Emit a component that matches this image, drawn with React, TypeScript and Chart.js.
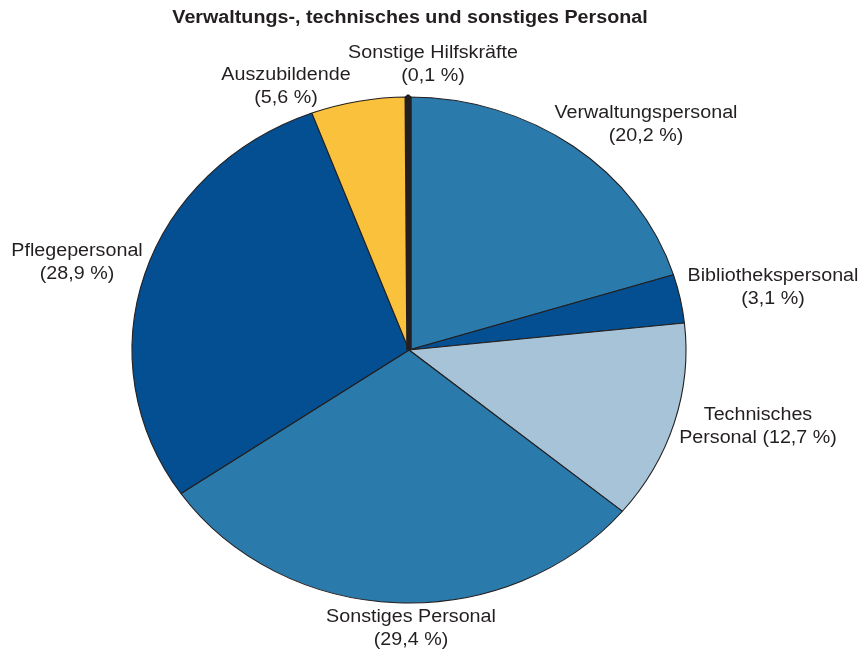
import React, { useEffect, useRef } from "react";
import { Chart, registerables } from "chart.js";

Chart.register(...registerables);

const TITLE = "Verwaltungs-, technisches und sonstiges Personal";
const CATEGORIES = [
  "Verwaltungspersonal",
  "Bibliothekspersonal",
  "Technisches Personal",
  "Sonstiges Personal",
  "Pflegepersonal",
  "Auszubildende",
  "Sonstige Hilfskräfte",
];
const VALUES = [20.2, 3.1, 12.7, 29.4, 28.9, 5.6, 0.1];
const VALUE_TEXT = ["20,2 %", "3,1 %", "12,7 %", "29,4 %", "28,9 %", "5,6 %", "0,1 %"];
const COLORS = ["#2a7aab", "#034f91", "#a6c3d7", "#2a7aab", "#034f91", "#f9c13c", "#231f20"];

// label text lines (layout only)
const LABEL_LINES = [
  ["Verwaltungspersonal", "(" + VALUE_TEXT[0] + ")"],
  ["Bibliothekspersonal", "(" + VALUE_TEXT[1] + ")"],
  ["Technisches", "Personal (" + VALUE_TEXT[2] + ")"],
  ["Sonstiges Personal", "(" + VALUE_TEXT[3] + ")"],
  ["Pflegepersonal", "(" + VALUE_TEXT[4] + ")"],
  ["Auszubildende", "(" + VALUE_TEXT[5] + ")"],
  ["Sonstige Hilfskräfte", "(" + VALUE_TEXT[6] + ")"],
];
// label centres in page coordinates
const LABEL_POS = [
  [646, 113],
  [773, 276],
  [758, 415],
  [411, 617],
  [77, 251],
  [286, 75],
  [433, 53],
];

const W = 861;
const H = 655;
const RY = 253;
const RX = 277;
const SX = RX / RY;

export default function App() {
  const ref = useRef<HTMLCanvasElement>(null);
  useEffect(() => {
    if (!ref.current) return;
    const ellipse = {
      id: "ellipse",
      beforeDatasetsDraw(chart: any) {
        const arc = chart.getDatasetMeta(0).data[0];
        const ctx = chart.ctx;
        ctx.save();
        ctx.translate(arc.x, arc.y);
        ctx.scale(SX, 1);
        ctx.translate(-arc.x, -arc.y);
      },
      afterDatasetsDraw(chart: any) {
        chart.ctx.restore();
      },
    };
    const drawText = (ctx: any, t: string, x: number, y: number) => {
      ctx.save();
      ctx.translate(x, y);
      ctx.scale(SX, 1);
      ctx.fillText(t, 0, 0);
      ctx.restore();
    };
    const labels = {
      id: "labels",
      afterDraw(chart: any) {
        const ctx = chart.ctx;
        ctx.save();
        ctx.fillStyle = "#231f20";
        ctx.textAlign = "center";
        ctx.textBaseline = "middle";
        ctx.font = "bold 18px 'Liberation Sans', Arial, sans-serif";
        drawText(ctx, TITLE, 410, 18);
        ctx.font = "18px 'Liberation Sans', Arial, sans-serif";
        LABEL_LINES.forEach((lines, i) => {
          const [x, y] = LABEL_POS[i];
          lines.forEach((t, j) => drawText(ctx, t, x, y + j * 23));
        });
        ctx.restore();
      },
    };
    const chart = new Chart(ref.current, {
      type: "pie",
      data: {
        labels: CATEGORIES,
        datasets: [
          {
            data: VALUES,
            backgroundColor: COLORS,
            borderColor: "#231f20",
            borderWidth: [1, 1, 1, 1, 1, 1, 5],
          },
        ],
      },
      options: {
        responsive: false,
        animation: false,
        devicePixelRatio: 1,
        radius: RY,
        layout: { padding: { left: 0, right: 43, top: 45, bottom: 0 } },
        plugins: {
          legend: { display: false },
          tooltip: { enabled: false },
          title: { display: false },
        },
      },
      plugins: [ellipse, labels],
    });
    return () => chart.destroy();
  }, []);
  return (
    <div style={{ position: "absolute", left: 0, top: 0, width: W, height: H, overflow: "hidden" }}>
      <canvas ref={ref} width={W} height={H} style={{ display: "block" }} />
    </div>
  );
}
